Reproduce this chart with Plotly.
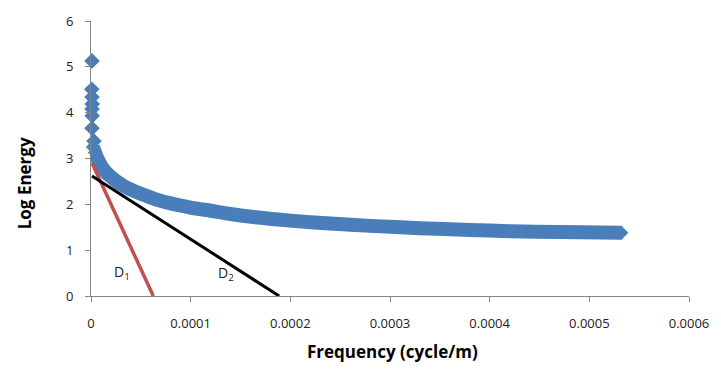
import plotly.graph_objects as go

# ---- data ----
# isolated low-frequency points (stacked near x = 0)
head_freq = [0.0000010, 0.0000008, 0.0000010, 0.0000012, 0.0000010, 0.0000012, 0.0000010, 0.0000030]
head_logE = [5.13, 4.51, 4.34, 4.19, 4.08, 3.93, 3.66, 3.38]

# continuous band of the spectrum
band_freq = [0.0000020, 0.0000040, 0.0000060, 0.0000080, 0.0000100, 0.0000150, 0.0000200,
             0.0000250, 0.0000320, 0.0000400, 0.0000500, 0.0000650, 0.0000800, 0.0001000,
             0.0001200, 0.0001400, 0.0001650, 0.0002000, 0.0002400, 0.0002800, 0.0003300,
             0.0003800, 0.0004200, 0.0004700, 0.0005320]
band_logE = [3.25, 3.13, 3.02, 2.93, 2.85, 2.70, 2.60,
             2.51, 2.41, 2.32, 2.23, 2.11, 2.02, 1.93,
             1.86, 1.79, 1.72, 1.645, 1.58, 1.53, 1.48,
             1.44, 1.415, 1.395, 1.38]

# fitted straight lines D1 and D2
d1_freq = [0.0000010, 0.0000625]
d1_logE = [2.90, 0.0]
d2_freq = [0.0000010, 0.0001888]
d2_logE = [2.62, 0.0]

x_tick_vals = [0, 0.0001, 0.0002, 0.0003, 0.0004, 0.0005, 0.0006]
x_tick_text = ["0", "0.0001", "0.0002", "0.0003", "0.0004", "0.0005", "0.0006"]
y_tick_vals = [0, 1, 2, 3, 4, 5, 6]
y_tick_text = ["0", "1", "2", "3", "4", "5", "6"]

BLUE = "#4A7EBB"
RED = "#C0504D"
FONT = "Open Sans"

fig = go.Figure()

# thick band (line) for the dense series
fig.add_trace(go.Scatter(
    x=band_freq, y=band_logE, mode="lines",
    line=dict(color=BLUE, width=14, shape="spline", smoothing=0.8),
    hoverinfo="skip", showlegend=False))
# diamond markers at band points
fig.add_trace(go.Scatter(
    x=band_freq, y=band_logE, mode="markers",
    marker=dict(symbol="diamond", size=11, color=BLUE, line=dict(width=0)),
    cliponaxis=False, showlegend=False))
# stacked head points
fig.add_trace(go.Scatter(
    x=head_freq, y=head_logE, mode="markers",
    marker=dict(symbol="diamond", size=12, color=BLUE, line=dict(width=0)),
    cliponaxis=False, showlegend=False))

fig.add_trace(go.Scatter(
    x=d1_freq, y=d1_logE, mode="lines",
    line=dict(color=RED, width=3.5), showlegend=False))
fig.add_trace(go.Scatter(
    x=d2_freq, y=d2_logE, mode="lines",
    line=dict(color="black", width=3), showlegend=False))

axis_common = dict(
    showgrid=False, zeroline=False, showline=True, linecolor="#868686", linewidth=1,
    ticks="outside", ticklen=5, tickcolor="#868686", tickwidth=1,
    tickfont=dict(family=FONT, size=13, color="#222222"),
)

fig.update_xaxes(range=[0, 0.0006], tickvals=x_tick_vals, ticktext=x_tick_text,
                 ticklabelstandoff=10, **axis_common)
fig.update_yaxes(range=[0, 6], tickvals=y_tick_vals, ticktext=y_tick_text,
                 ticklabelstandoff=9, **axis_common)

fig.update_layout(
    width=721, height=376,
    margin=dict(l=91, r=31, t=16, b=80),
    paper_bgcolor="white", plot_bgcolor="white",
    showlegend=False,
    annotations=[
        dict(text="<b>Frequency (cycle/m)</b>", xref="paper", yref="paper",
             x=0.505, y=-0.2, yanchor="middle", showarrow=False,
             font=dict(family=FONT, size=17, color="black")),
        dict(text="<b>Log Energy</b>", xref="paper", yref="paper",
             x=-0.112, y=0.41, xanchor="center", yanchor="middle", textangle=-90,
             showarrow=False, font=dict(family=FONT, size=17, color="black")),
        dict(text="D<sub>1</sub>", x=0.0000311, y=0.51, xref="x", yref="y",
             showarrow=False, font=dict(family=FONT, size=14, color="#222222")),
        dict(text="D<sub>2</sub>", x=0.0001353, y=0.49, xref="x", yref="y",
             showarrow=False, font=dict(family=FONT, size=14, color="#222222")),
    ],
)

fig.write_html("out.html")
